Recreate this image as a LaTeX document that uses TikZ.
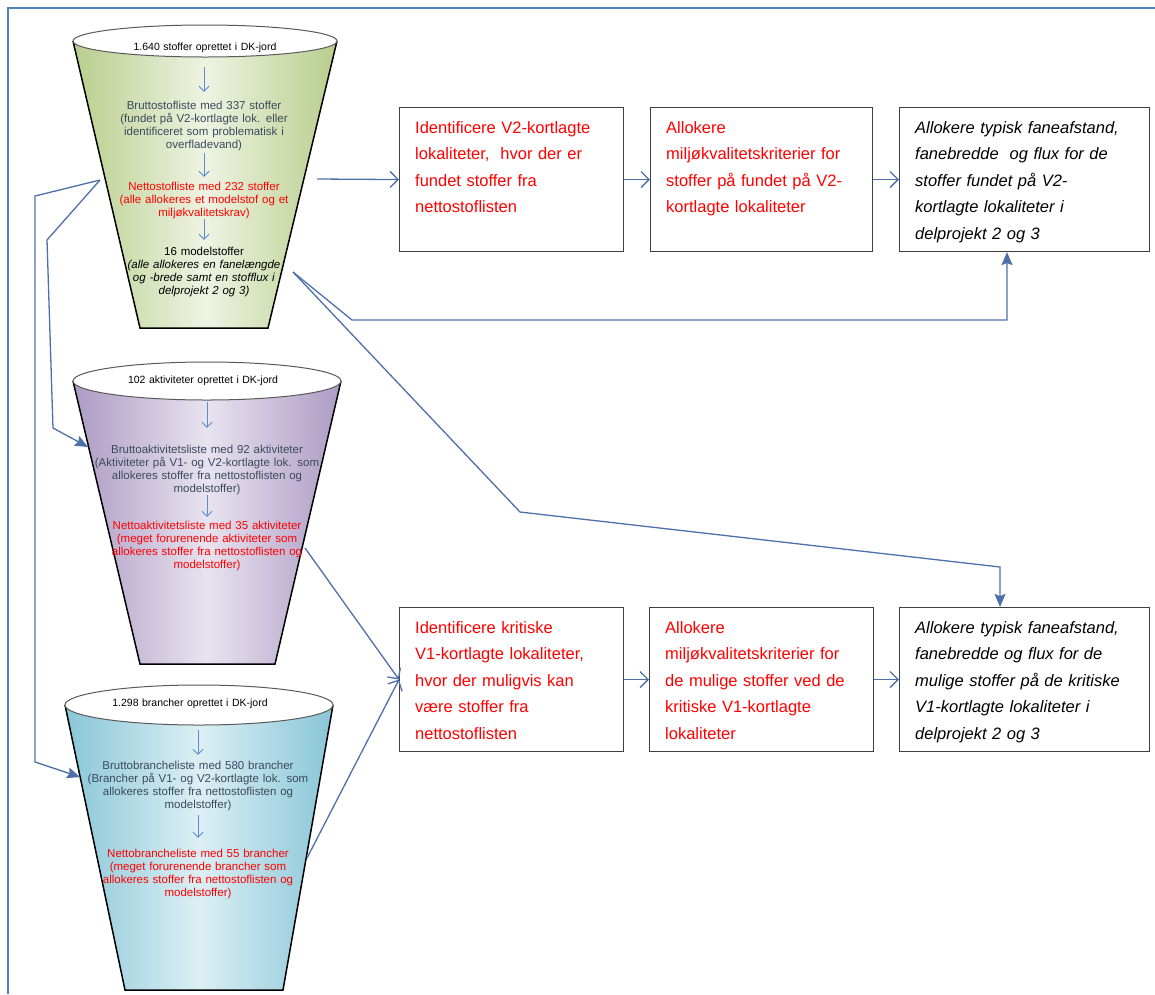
\documentclass[tikz,border=0pt]{standalone}
\usepackage{fontspec}
\setmainfont{Liberation Sans}
\usetikzlibrary{arrows.meta}
\definecolor{lnk}{HTML}{4E70A8}
\definecolor{inb}{HTML}{5B8BD0}
\definecolor{brd}{HTML}{4F81BD}
\definecolor{slate}{HTML}{3C4A5E}
\definecolor{rd}{HTML}{FF0000}
\definecolor{gE}{HTML}{B8CE8C}
\definecolor{gC}{HTML}{EEF3E2}
\definecolor{pE}{HTML}{AD9BC4}
\definecolor{pC}{HTML}{E8E3EF}
\definecolor{bE}{HTML}{88C6D8}
\definecolor{bC}{HTML}{DCEFF4}
\begin{document}
\begin{tikzpicture}[x=1pt,y=-1pt,
 box/.style={draw=black!75,line width=1.1pt,fill=white,inner sep=0pt,anchor=north west,minimum height=144pt},
 btxt/.style={font=\fontsize{16.5}{26.5}\selectfont,text=rd,text width=235pt,align=left,inner sep=0pt,anchor=base west},
 itxt/.style={btxt,text=black,font=\fontsize{16.5}{26.5}\selectfont\itshape},
 ftop/.style={font=\fontsize{10.5}{13}\selectfont,text=black,inner sep=0pt,anchor=base,text width=260pt,align=center},
 fbody/.style={font=\fontsize{11.5}{13}\selectfont,inner sep=0pt,anchor=base,text width=280pt,align=center},
 side/.style={draw=black,line width=1.5pt,line join=miter},
 rim/.style={draw=black!65,fill=white,line width=1pt},
 inarr/.style={draw=inb,line width=0.9pt,-{Straight Barb[length=5pt,width=10pt]}},
 link/.style={draw=lnk,line width=1.3pt},
 openarr/.style={link,-{Straight Barb[length=8pt,width=16pt]}},
 fillarr/.style={link,-{Stealth[length=13pt,width=11pt,inset=2pt]}},
]
\useasboundingbox (0,0) rectangle (1155,994);
% page frame
\draw[brd,line width=1.5pt] (8,994) -- (8,8) -- (1155,8);

% ---------- funnel 1 ----------
\shade[left color=gE,right color=gE,middle color=gC] (73,41) -- (140,328) -- (268,328) -- (337,41) -- cycle;
\draw[side] (73,41) -- (140,328) -- (268,328) -- (337,41);
\draw[rim] (205,41) ellipse [x radius=132pt,y radius=16pt];
\node[ftop] (f1a) at (205,50) {1.640 stoffer oprettet i DK-jord};
\node[fbody,text=slate] (f1b) at (204,109) {Bruttostofliste med 337 stoffer\\(fundet på V2-kortlagte lok. eller\\identificeret som problematisk i\\overfladevand)};
\node[fbody,text=rd] (f1c) at (204,190) {Nettostofliste med 232 stoffer\\(alle allokeres et modelstof og et\\miljøkvalitetskrav)};
\node[fbody,text=black] (f1d) at (204,255) {16 modelstoffer\\\textit{(alle allokeres en fanelængde}\\\textit{og -brede samt en stofflux i}\\\textit{delprojekt 2 og 3)}};
\draw[inarr,shorten <=15pt,shorten >=8.6pt] (f1a.south -| f1b.north) -- (f1b.north);
\draw[inarr,shorten <=2.6pt,shorten >=4.6pt] (f1b.south) -- (f1c.north);
\draw[inarr,shorten >=6.6pt] (f1c.south) -- (f1d.north);

% ---------- funnel 2 ----------
\shade[left color=pE,right color=pE,middle color=pC] (73,381) -- (140,664) -- (275,664) -- (341,381) -- cycle;
\draw[side] (73,381) -- (140,664) -- (275,664) -- (341,381);
\draw[rim] (207,381) ellipse [x radius=134pt,y radius=19pt];
\node[ftop] (f2a) at (203,383) {102 aktiviteter oprettet i DK-jord};
\node[fbody,text=slate] (f2b) at (207,453) {Bruttoaktivitetsliste med 92 aktiviteter\\(Aktiviteter på V1- og V2-kortlagte lok. som\\allokeres stoffer fra nettostoflisten og\\modelstoffer)};
\node[fbody,text=rd] (f2c) at (207,529) {Nettoaktivitetsliste med 35 aktiviteter\\(meget forurenende aktiviteter som\\allokeres stoffer fra nettostoflisten og\\modelstoffer)};
\draw[inarr,shorten <=16.8pt,shorten >=16.6pt] (f2a.south -| f2b.north) -- (f2b.north);
\draw[inarr,shorten <=0.6pt,shorten >=3.6pt] (f2b.south) -- (f2c.north);

% ---------- funnel 3 ----------
\shade[left color=bE,right color=bE,middle color=bC] (65,705) -- (125,990) -- (283,990) -- (333,705) -- cycle;
\draw[side] (65,705) -- (125,990) -- (283,990) -- (333,705);
\draw[rim] (199,705) ellipse [x radius=134pt,y radius=20pt];
\node[ftop] (f3a) at (190,706) {1.298 brancher oprettet i DK-jord};
\node[fbody,text=slate] (f3b) at (198,769) {Bruttobrancheliste med 580 brancher\\(Brancher på V1- og V2-kortlagte lok. som\\allokeres stoffer fra nettostoflisten og\\modelstoffer)};
\node[fbody,text=rd] (f3c) at (198,857) {Nettobrancheliste med 55 brancher\\(meget forurenende brancher som\\allokeres stoffer fra nettostoflisten og\\modelstoffer)};
\draw[inarr,shorten <=22pt,shorten >=5.6pt] (f3a.south -| f3b.north) -- (f3b.north);
\draw[inarr,shorten <=4.6pt,shorten >=10.6pt] (f3b.south) -- (f3c.north);

% ---------- boxes ----------
\node[box,minimum width=224pt] (b1) at (399,107) {};
\node[box,minimum width=222pt] (b2) at (650,107) {};
\node[box,minimum width=250pt] (b3) at (899,107) {};
\node[box,minimum width=224pt] (b4) at (399,607) {};
\node[box,minimum width=224pt] (b5) at (649,607) {};
\node[box,minimum width=250pt] (b6) at (899,607) {};
\node[btxt] (t1) at (415,133) {Identificere V2-kortlagte\\lokaliteter,\ \ hvor der er\\fundet stoffer fra\\nettostoflisten};
\node[btxt] (t2) at (666,133) {Allokere\\miljøkvalitetskriterier for\\stoffer på fundet på V2-\\kortlagte lokaliteter};
\node[itxt] (t3) at (915,133) {Allokere typisk faneafstand,\\fanebredde\ \ og flux for de\\stoffer fundet på V2-\\kortlagte lokaliteter i\\delprojekt 2 og 3};
\node[btxt] (t4) at (415,633) {Identificere kritiske\\V1-kortlagte lokaliteter,\\hvor der muligvis kan\\være stoffer fra\\nettostoflisten};
\node[btxt] (t5) at (665,633) {Allokere\\miljøkvalitetskriterier for\\de mulige stoffer ved de\\kritiske V1-kortlagte\\lokaliteter};
\node[itxt] (t6) at (915,633) {Allokere typisk faneafstand,\\fanebredde og flux for de\\mulige stoffer på de kritiske\\V1-kortlagte lokaliteter i\\delprojekt 2 og 3};

% ---------- connectors ----------
\coordinate (f1r) at (317,179);
\draw[openarr] (f1r) -- (b1.west);
\draw[openarr] (b1.east) -- (b2.west);
\draw[openarr] (b2.east) -- (b3.west);
\draw[openarr] (b4.east) -- (b5.west);
\draw[openarr] (b5.east) -- (b6.west);

\coordinate (f1q) at (293,272);
\coordinate (k1) at (352,320);
\coordinate (k2) at (1007,320);
\draw[fillarr] (f1q) -- (k1) -- (k2) -- (k2 |- b3.south);
\coordinate (k3) at (520,512);
\coordinate (k4) at (1000,567);
\draw[fillarr] (f1q) -- (k3) -- (k4) -- (k4 |- b6.north);

\coordinate (f2r) at (305,548);
\coordinate (f3r) at (307,858);
\draw[openarr] (f2r) -- (b4.west);
\draw[openarr] (f3r) -- (b4.west);

\coordinate (f1l) at (100,180);
\coordinate (m1) at (35,196);
\coordinate (m2) at (35,762);
\coordinate (f3l) at (80,777);
\draw[fillarr] (f1l) -- (m1) -- (m2) -- (f3l);
\coordinate (m3) at (47,240);
\coordinate (m4) at (53,428);
\coordinate (f2l) at (88,447);
\draw[fillarr] (f1l) -- (m3) -- (m4) -- (f2l);
\end{tikzpicture}
\end{document}
